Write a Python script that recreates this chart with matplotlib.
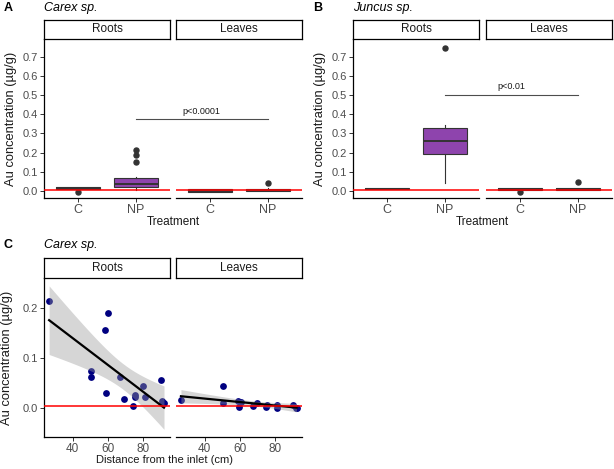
import numpy as np
import matplotlib
matplotlib.use("Agg")
import matplotlib.pyplot as plt
from matplotlib.lines import Line2D

plt.rcParams['font.family'] = ['Liberation Sans', 'DejaVu Sans']

W, H = 614, 469

treatments = ["C", "NP"]
tissues = ["Roots", "Leaves"]

# box stats per treatment: [whislo, q1, median, q3, whishi]
carex_roots_stats = [[0.009, 0.009, 0.015, 0.019, 0.019], [0.005, 0.019, 0.036, 0.066, 0.075]]
carex_roots_fliers = [[-0.006], [0.153, 0.188, 0.213]]
carex_leaves_stats = [[-0.005, -0.005, 0.002, 0.009, 0.013], [0.002, 0.002, 0.008, 0.012, 0.015]]
carex_leaves_fliers = [[], [0.043]]

juncus_roots_stats = [[0.009, 0.009, 0.013, 0.017, 0.017], [0.043, 0.193, 0.259, 0.330, 0.343]]
juncus_roots_fliers = [[], [0.744]]
juncus_leaves_stats = [[0.007, 0.007, 0.012, 0.016, 0.016], [0.007, 0.007, 0.012, 0.017, 0.017]]
juncus_leaves_fliers = [[-0.006], [0.046]]

carex_sig = ("p<0.0001", 0.373)
juncus_sig = ("p<0.01", 0.50)

# panel C: distance from inlet (cm) vs Au concentration
roots_dist = [26.6, 60.2, 58.3, 50.2, 50.2, 59.0, 67.0, 69.0, 74.0, 75.1, 75.1, 80.0, 80.8, 90.0, 90.4, 91.7]
roots_au = [0.214, 0.189, 0.156, 0.075, 0.062, 0.031, 0.062, 0.018, 0.004, 0.026, 0.022, 0.045, 0.023, 0.056, 0.015, 0.010]
leaves_dist = [26.5, 50.5, 50.5, 59.0, 59.6, 60.5, 67.5, 69.8, 74.5, 75.4, 81.1, 80.8, 90.2, 91.5, 92.0]
leaves_au = [0.0165, 0.044, 0.010, 0.0145, 0.003, 0.012, 0.005, 0.011, 0.003, 0.0066, 0.0066, 0.001, 0.0066, 0.001, 0.001]

T975 = {13: 2.160, 14: 2.145, 15: 2.131}

PURPLE = "#8E44AD"
EDGE = "#333333"
TICKCOL = "#4D4D4D"
RED_Y = 0.005

fig = plt.figure(figsize=(W / 100, H / 100), dpi=100)


def px_rect(x0, y0, x1, y1):
    return [x0 / W, 1 - y1 / H, (x1 - x0) / W, (y1 - y0) / H]


def strip(x0, x1, y0, y1, label):
    s = fig.add_axes(px_rect(x0, y0, x1, y1))
    s.set_xticks([])
    s.set_yticks([])
    for sp in s.spines.values():
        sp.set_linewidth(0.9)
        sp.set_color("black")
    s.text(0.5, 0.5, label, ha="center", va="center", fontsize=8.5, color="#1A1A1A")


def panel(x0, x1, y0, y1, left_axis):
    ax = fig.add_axes(px_rect(x0, y0, x1, y1))
    ax.spines["top"].set_visible(False)
    ax.spines["right"].set_visible(False)
    ax.spines["bottom"].set_linewidth(0.9)
    ax.spines["left"].set_linewidth(0.9)
    ax.tick_params(length=3, width=0.7, color=EDGE, labelsize=8, labelcolor=TICKCOL, pad=1.5)
    if not left_axis:
        ax.spines["left"].set_visible(False)
        ax.tick_params(axis="y", left=False, labelleft=False)
    return ax


def box_panel(ax, stats, fliers):
    bxs = []
    for i, (st, fl) in enumerate(zip(stats, fliers)):
        bxs.append(dict(whislo=st[0], q1=st[1], med=st[2], q3=st[3], whishi=st[4], fliers=fl, label=treatments[i]))
    ax.bxp(bxs, positions=[1, 2], widths=0.77, patch_artist=True, showcaps=False,
           boxprops=dict(facecolor=PURPLE, edgecolor=EDGE, linewidth=0.8),
           medianprops=dict(color=EDGE, linewidth=1.4),
           whiskerprops=dict(color=EDGE, linewidth=0.8),
           flierprops=dict(marker="o", markerfacecolor=EDGE, markeredgecolor=EDGE, markersize=3.6))
    ax.axhline(RED_Y, color="red", linewidth=1.1, zorder=5)
    ax.set_xlim(0.4, 2.6)
    ax.set_ylim(-0.036, 0.792)
    ax.set_yticks(np.arange(0, 0.71, 0.1))
    ax.set_yticklabels([f"{v:.1f}" for v in np.arange(0, 0.71, 0.1)])
    ax.set_xticks([1, 2])
    ax.set_xticklabels(treatments, fontsize=9)


def sig_bar(ax_a, ax_b, text, y):
    inv = fig.transFigure.inverted()
    p0 = inv.transform(ax_a.transData.transform((2, y)))
    p1 = inv.transform(ax_b.transData.transform((2, y)))
    fig.add_artist(Line2D([p0[0], p1[0]], [p0[1], p1[1]], color="#4D4D4D", linewidth=0.8))
    fig.text((p0[0] + p1[0]) / 2, p0[1] + 0.008, text, ha="center", va="bottom", fontsize=6.5, color="#1A1A1A")


def box_figure(xl, label, species, roots_stats, roots_fl, leaves_stats, leaves_fl, sig, lab_x):
    r = panel(xl[0], xl[0] + 126, 39, 198, True)
    l = panel(xl[1], xl[1] + 126, 39, 198, False)
    strip(xl[0], xl[0] + 126, 20, 39, "Roots")
    strip(xl[1], xl[1] + 126, 20, 39, "Leaves")
    box_panel(r, roots_stats, roots_fl)
    box_panel(l, leaves_stats, leaves_fl)
    r.set_ylabel("Au concentration (µg/g)", fontsize=9.3, color="#1A1A1A", labelpad=4)
    fig.text((xl[0] + xl[1] + 126) / 2 / W, 1 - 222 / H, "Treatment", ha="center", va="center",
             fontsize=8.5, color="#1A1A1A")
    fig.text(lab_x / W, 1 - 8 / H, label, ha="left", va="center", fontsize=9, fontweight="bold")
    fig.text(xl[0] / W, 1 - 8 / H, species, ha="left", va="center", fontsize=9, style="italic")
    sig_bar(r, l, sig[0], sig[1])


box_figure((44, 176), "A", "Carex sp.", carex_roots_stats, carex_roots_fliers,
           carex_leaves_stats, carex_leaves_fliers, carex_sig, 4)
box_figure((353, 486), "B", "Juncus sp.", juncus_roots_stats, juncus_roots_fliers,
           juncus_leaves_stats, juncus_leaves_fliers, juncus_sig, 313)


def reg_panel(ax, xs, ys):
    xs = np.asarray(xs)
    ys = np.asarray(ys)
    ax.scatter(xs, ys, s=24, color="#000080", zorder=2, linewidths=0)
    n = len(xs)
    b, a = np.polyfit(xs, ys, 1)
    resid = ys - (a + b * xs)
    s = np.sqrt(np.sum(resid ** 2) / (n - 2))
    xm = xs.mean()
    sxx = np.sum((xs - xm) ** 2)
    xg = np.linspace(xs.min(), xs.max(), 80)
    yg = a + b * xg
    se = s * np.sqrt(1 / n + (xg - xm) ** 2 / sxx)
    t = T975[n - 2]
    ax.fill_between(xg, yg - t * se, yg + t * se, color="#999999", alpha=0.4, linewidth=0, zorder=3)
    ax.plot(xg, yg, color="black", linewidth=1.6, zorder=4)
    ax.axhline(RED_Y, color="red", linewidth=1.1, zorder=5)
    ax.set_xlim(23.7, 95.1)
    ax.set_ylim(-0.057, 0.259)
    ax.set_xticks([40, 60, 80])
    ax.set_yticks([0.0, 0.1, 0.2])
    ax.set_yticklabels(["0.0", "0.1", "0.2"])
    ax.tick_params(axis="x", labelsize=8.5)


cr = panel(44, 170, 278, 437, True)
cl = panel(176, 302, 278, 437, False)
strip(44, 170, 258, 278, "Roots")
strip(176, 302, 258, 278, "Leaves")
reg_panel(cr, roots_dist, roots_au)
reg_panel(cl, leaves_dist, leaves_au)
cr.set_ylabel("Au concentration (µg/g)", fontsize=9.3, color="#1A1A1A", labelpad=7)
fig.text(165 / W, 1 - 460 / H, "Distance from the inlet (cm)", ha="center", va="center",
         fontsize=8.0, color="#1A1A1A")
fig.text(4 / W, 1 - 245 / H, "C", ha="left", va="center", fontsize=9, fontweight="bold")
fig.text(44 / W, 1 - 245 / H, "Carex sp.", ha="left", va="center", fontsize=9, style="italic")

fig.savefig("out.png", dpi=100)
